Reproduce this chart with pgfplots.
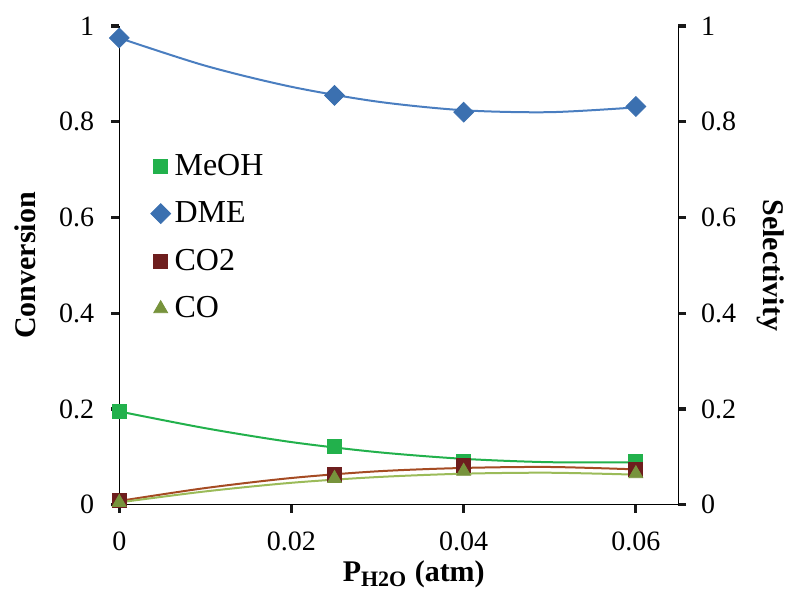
\documentclass[border=0pt]{standalone}
\usepackage{pgfplots}
\pgfplotsset{compat=1.18}
\usepackage{fontspec}
\setmainfont{Liberation Serif}

\definecolor{meoh}{RGB}{34,177,76}
\definecolor{dme}{RGB}{59,112,176}
\definecolor{dmeline}{RGB}{74,126,192}
\definecolor{cotwo}{RGB}{110,30,30}
\definecolor{cotwoline}{RGB}{165,75,35}
\definecolor{co}{RGB}{119,147,60}
\definecolor{coline}{RGB}{155,187,89}

\pgfplotsset{
  base/.style={
    scale only axis,
    width=279.5pt, height=239.5pt,
    xmin=0, xmax=0.0649, ymin=0, ymax=1,
    scaled x ticks=false, scaled y ticks=false,
    tick align=outside,
    major tick length=4pt,
    every axis line/.style={line width=1.6pt, black!90},
    every tick/.style={line width=1.6pt, black!90},
    tick label style={font=\fontsize{14}{16}\selectfont},
    label style={font=\fontsize{15}{18}\selectfont\bfseries},
  }
}

\begin{document}
\begin{tikzpicture}
\begin{axis}[base, name=main,
    axis x line*=bottom, axis y line*=left,
    xtick={0,0.02,0.04,0.06}, xticklabels={0,0.02,0.04,0.06},
    ytick={0,0.2,0.4,0.6,0.8,1}, yticklabels={0,0.2,0.4,0.6,0.8,1},
    xticklabel style={yshift=-6pt},
    yticklabel style={xshift=-5pt},
    xlabel={P\textsubscript{\fontsize{11}{12}\selectfont H2O} (atm)},
    xlabel style={at={(axis description cs:0.527,-0.146)}, anchor=center},
    ylabel={Conversion},
    ylabel style={at={(axis description cs:-0.1687,0.5)}, anchor=center},
    legend style={at={(0.045,0.75)}, anchor=north west, draw=none, fill=none,
      font=\fontsize{16}{19}\selectfont, row sep=7.7pt,
      legend cell align=left},
  ]
% trend lines
\addplot[meoh, line width=1pt, smooth, forget plot] coordinates
  {(0,0.195) (0.01,0.160) (0.02,0.131) (0.03,0.110) (0.04,0.096) (0.05,0.089) (0.06,0.089)};
\addplot[dmeline, line width=1pt, smooth, forget plot] coordinates
  {(0,0.975) (0.01,0.917) (0.02,0.873) (0.03,0.842) (0.04,0.824) (0.05,0.820) (0.06,0.830)};
\addplot[cotwoline, line width=1pt, smooth, forget plot] coordinates
  {(0,0.008) (0.01,0.035) (0.02,0.056) (0.03,0.070) (0.04,0.077) (0.05,0.079) (0.06,0.074)};
\addplot[coline, line width=1pt, smooth, forget plot] coordinates
  {(0,0.005) (0.01,0.028) (0.02,0.046) (0.03,0.058) (0.04,0.065) (0.05,0.067) (0.06,0.063)};
% markers
\addplot[only marks, mark=square*, mark size=3.5pt, meoh] coordinates
  {(0,0.195) (0.025,0.122) (0.04,0.090) (0.06,0.090)};
\addlegendentry{MeOH}
\addplot[only marks, mark=square*, mark options={rotate=45}, mark size=3.5pt, dme] coordinates
  {(0,0.975) (0.025,0.855) (0.04,0.820) (0.06,0.832)};
\addlegendentry{DME}
\addplot[only marks, mark=square*, mark size=3.5pt, cotwo] coordinates
  {(0,0.010) (0.025,0.064) (0.04,0.082) (0.06,0.075)};
\addlegendentry{CO2}
\addplot[only marks, mark=triangle*, mark size=4pt, co] coordinates
  {(0,0.005) (0.025,0.055) (0.04,0.070) (0.06,0.065)};
\addlegendentry{CO}
\end{axis}
\begin{axis}[base,
    axis x line=none, axis y line*=right,
    ytick={0,0.2,0.4,0.6,0.8,1}, yticklabels={0,0.2,0.4,0.6,0.8,1},
    yticklabel style={xshift=4pt},
    ylabel={Selectivity},
    ylabel style={at={(axis description cs:1.1658,0.5)}, anchor=center, rotate=180},
  ]
\end{axis}
\path ([xshift=-59.65pt,yshift=-44.5pt]main.south west) rectangle ([xshift=335.85pt,yshift=252.5pt]main.south west);
\end{tikzpicture}
\end{document}
